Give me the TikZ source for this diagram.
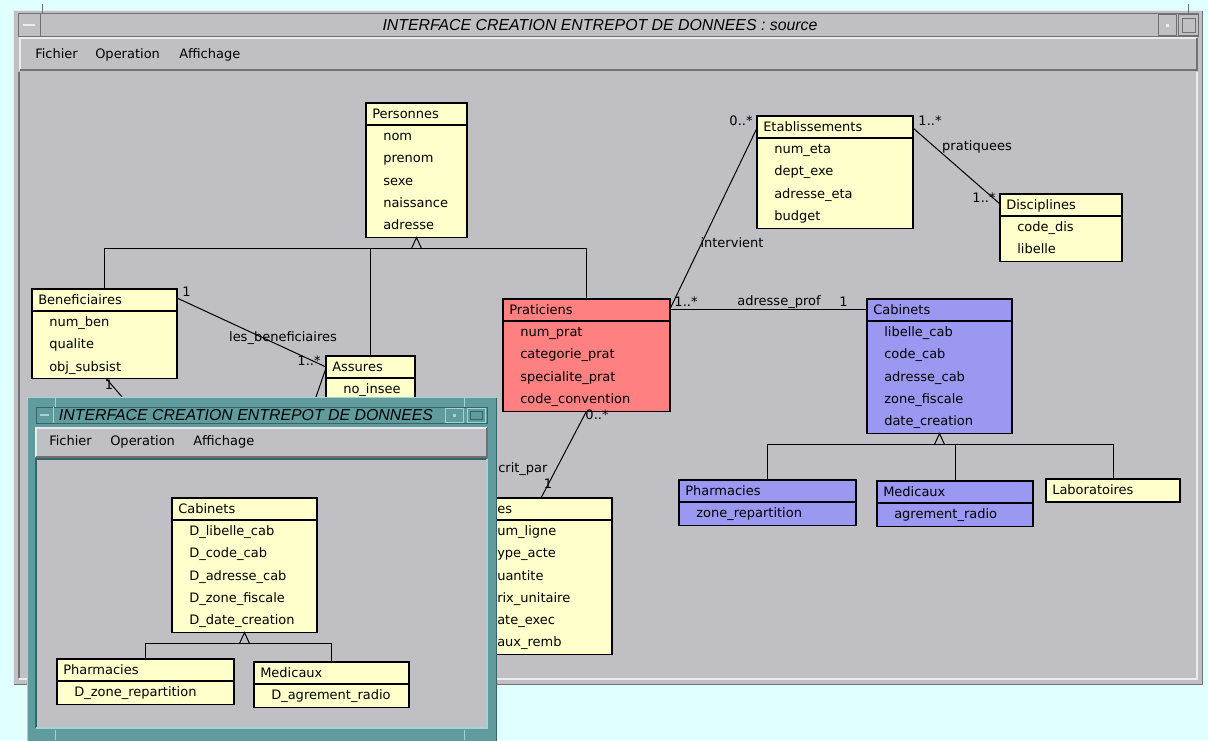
\documentclass[tikz,border=0pt]{standalone}
\usepackage{fontspec}
\setmainfont{DejaVu Sans}
\newfontfamily\wintitle{Liberation Sans}

\definecolor{deskcyan}{RGB}{224,255,255}
\definecolor{wingray}{RGB}{192,191,196}
\definecolor{winlight}{RGB}{235,235,238}
\definecolor{windark}{RGB}{112,112,118}
\definecolor{classyellow}{RGB}{255,255,204}
\definecolor{classred}{RGB}{255,128,128}
\definecolor{classblue}{RGB}{155,152,242}
\definecolor{frameteal}{RGB}{96,156,158}
\definecolor{teallight}{RGB}{165,210,210}
\definecolor{tealdark}{RGB}{52,102,104}

\newcommand{\boxfont}{\fontsize{9.75}{11}\selectfont}
\newcommand{\titlefont}{\wintitle\itshape\fontsize{11.9}{14}\selectfont}

\tikzset{
  classbox/.style={draw=black, line width=0.8pt, inner sep=0pt, outer sep=0pt},
  boxline/.style={draw=black, line width=0.8pt},
  boxtext/.style={anchor=mid west, inner sep=0pt, font=\boxfont},
  assoc/.style={draw=black, line width=0.75pt},
  mult/.style={anchor=mid, inner sep=0pt, font=\boxfont},
  menutext/.style={anchor=mid west, inner sep=0pt, font=\boxfont},
  titletext/.style={inner sep=0pt, font=\titlefont},
}

% \umlclass[fill]{name}{x}{y}{width}{rows}{title}{attributes}
\newcommand{\umlclass}[8][classyellow]{%
  \node[classbox, fill=#1, minimum width=#5*0.75pt, minimum height={(23+#6*22.3)*0.75pt}, anchor=north west] (#2) at (#3,#4) {};
  \ifnum#6>0\relax
    \draw[boxline] ([yshift=-16.5pt]#2.north west) -- ([yshift=-16.5pt]#2.north east);
  \fi
  \node[boxtext] (#2-title) at ([shift={(6,11.5)}]#2.north west) {#7};
  \foreach \attr [count=\i] in {#8}
    \node[boxtext] (#2-\i) at ([shift={(17,11.5+22.3*\i)}]#2.north west) {\attr};
}

% \generalize{parent}{children}
\newcommand{\generalize}[2]{%
  \coordinate (#1-base) at ([shift={(0,11)}]#1.south);
  \draw[assoc] ([shift={(-5,11)}]#1.south) -- (#1.south) -- ([shift={(5,11)}]#1.south);
  \foreach \child in {#2}
    \draw[assoc] (\child.north) |- (#1-base);
}

\begin{document}
\begin{tikzpicture}[x=0.75pt, y=-0.75pt]
\useasboundingbox (0,0) rectangle (1208,740);

% desktop and main window
\fill[deskcyan] (0,0) rectangle (1208,740);
\fill[wingray] (13,10) rectangle (1203,685);
\draw[winlight, line width=1pt] (13.5,684.5) -- (13.5,10.5) -- (1202.5,10.5);
\draw[windark, line width=1pt] (1202.5,10.5) -- (1202.5,684.5) -- (13.5,684.5);
\draw[windark, line width=0.6pt] (42,4) -- (42,13);
\draw[windark, line width=0.6pt] (1188,4) -- (1188,13);

% title bar
\draw[windark, line width=0.75pt] (18,13) rectangle (1198,36);
\draw[windark, line width=0.75pt] (40,13) -- (40,36);
\draw[winlight, line width=1.2pt] (23,25) -- (35,25);
\node[titletext] (maintitle) at (600,25) {INTERFACE CREATION ENTREPOT DE DONNEES : source};
\draw[windark, line width=0.6pt] (1158,14) rectangle (1176,35);
\fill[winlight] (1166,24) rectangle (1169,27);
\draw[windark, line width=0.6pt] (1178,14) rectangle (1198,35);
\draw[windark, line width=0.6pt] (1182,18) rectangle (1195,32);

% menu bar
\draw[winlight, line width=1pt] (20,70) -- (20,38) -- (1197,38);
\draw[windark, line width=1pt] (1197,38) -- (1197,70) -- (20,70);
\node[menutext] (mfich) at (35,55) {Fichier};
\node[menutext] (mop) at (95,55) {Operation};
\node[menutext] (maff) at (179,55) {Affichage};

% drawing area
\fill[wingray] (20,72) rectangle (1196,678);
\draw[windark, line width=1pt] (19,678) -- (19,72);
\draw[winlight, line width=1pt] (1197,72) -- (1197,679) -- (19,679);

% classes
\umlclass{pers}{366}{103}{101}{5}{Personnes}{nom, prenom, sexe, naissance, adresse}
\umlclass{ben}{32}{289}{145}{3}{Beneficiaires}{num\_ben, qualite, obj\_subsist}
\umlclass{ass}{326}{356}{89}{4}{Assures}{no\_insee}
\umlclass[classred]{prat}{503}{299}{167}{4}{Praticiens}{num\_prat, categorie\_prat, specialite\_prat, code\_convention}
\umlclass{etab}{757}{116}{156}{4}{Etablissements}{num\_eta, dept\_exe, adresse\_eta, budget}
\umlclass{disc}{1000}{194}{122}{2}{Disciplines}{code\_dis, libelle}
\umlclass[classblue]{cab}{867}{299}{145}{5}{Cabinets}{libelle\_cab, code\_cab, adresse\_cab, zone\_fiscale, date\_creation}
\umlclass[classblue]{pharm}{679}{480}{177}{1}{Pharmacies}{zone\_repartition}
\umlclass[classblue]{medic}{877}{481}{156}{1}{Medicaux}{agrement\_radio}
\umlclass{labo}{1046}{479}{134}{0}{Laboratoires}{}
\umlclass{lig}{470}{498}{142}{6}{}{}

% visible ends of the half hidden class
\node[boxtext] (lig-t) at (497,509.5) {es};
\foreach \frag [count=\i] in {um\_ligne, ype\_acte, uantite, rix\_unitaire, ate\_exec, aux\_remb}
  \node[boxtext] (lig-f\i) at (497,509.5+22.3*\i) {\frag};

% generalizations
\generalize{pers}{ben, ass, prat}
\generalize{cab}{pharm, medic, labo}

% associations
\draw[assoc] ([shift={(0,9)}]ben.north east) -- ([shift={(0,11)}]ass.north west);
\node[mult] (m1) at (186.5,293) {1};
\node[mult] (lbenef) at (283,338) {les\_beneficiaires};
\node[mult] (m2) at (309,362) {1..*};

\coordinate (bendown) at (135,412);
\draw[assoc] ([shift={(2,0)}]ben.south) -- (bendown);
\node[mult] (m3) at (109,386) {1};
\coordinate (assdown) at (308,420);
\draw[assoc] ([shift={(0,12)}]ass.north west) -- (assdown);

\draw[assoc] ([shift={(0,10)}]prat.north east) -- ([shift={(0,12)}]etab.north west);
\node[mult] (m4) at (686,303) {1..*};
\node[mult] (linterv) at (732,244) {intervient};
\node[mult] (m5) at (741,122) {0..*};

\draw[assoc] ([shift={(0,10)}]prat.north east) -- ([shift={(0,10)}]cab.north west);
\node[mult] (ladr) at (779,302) {adresse\_prof};
\node[mult] (m6) at (843.5,303) {1};

\draw[assoc] ([shift={(0,12)}]etab.north east) -- ([shift={(0,10)}]disc.north west);
\node[mult] (m7) at (930,122) {1..*};
\node[mult] (lprat) at (977,147) {pratiquees};
\node[mult] (m8) at (984,199) {1..*};

\draw[assoc] (prat.south) -- (lig.north);
\node[mult] (m9) at (597,416) {0..*};
\node[boxtext] (lcrit) at (498,469) {crit\_par};
\node[mult] (m10) at (548,485) {1};

% second window
\fill[frameteal] (27,397) rectangle (497,742);
\draw[teallight, line width=1pt] (27.5,742) -- (27.5,397.5) -- (496.5,397.5);
\draw[tealdark, line width=1pt] (496.5,397.5) -- (496.5,742);
\draw[teallight, line width=0.6pt] (55,397) -- (55,407);
\draw[teallight, line width=0.6pt] (464,397) -- (464,407);
\draw[teallight, line width=0.6pt] (55,730) -- (55,740);
\draw[teallight, line width=0.6pt] (464,730) -- (464,740);
\draw[tealdark, line width=0.6pt] (36,407) rectangle (487,423);
\draw[teallight, line width=0.6pt] (53,407) -- (53,423);
\draw[teallight, line width=1.2pt] (40,415) -- (49,415);
\node[titletext] (subtitle) at (246,415) {INTERFACE CREATION ENTREPOT DE DONNEES};
\draw[teallight, line width=0.6pt] (445,408) rectangle (463,422);
\fill[teallight] (452.5,413.5) rectangle (455.5,416.5);
\draw[teallight, line width=0.6pt] (467,408) rectangle (485,422);
\draw[tealdark, line width=0.6pt] (470,411) rectangle (482,419);

\fill[wingray] (36,428) rectangle (487,457);
\draw[winlight, line width=1pt] (36,457) -- (36,428) -- (487,428);
\draw[windark, line width=1pt] (487,428) -- (487,457) -- (36,457);
\node[menutext] (sfich) at (49,442) {Fichier};
\node[menutext] (sop) at (110,442) {Operation};
\node[menutext] (saff) at (193,442) {Affichage};

\fill[wingray] (36,459) rectangle (487,728);
\draw[tealdark, line width=1pt] (36,728) -- (36,459) -- (487,459);
\draw[teallight, line width=1pt] (487,459) -- (487,728) -- (36,728);

\umlclass{icab}{172}{498}{145}{5}{Cabinets}{D\_libelle\_cab, D\_code\_cab, D\_adresse\_cab, D\_zone\_fiscale, D\_date\_creation}
\umlclass{ipharm}{57}{659}{177}{1}{Pharmacies}{D\_zone\_repartition}
\umlclass{imedic}{254}{662}{155}{1}{Medicaux}{D\_agrement\_radio}
\generalize{icab}{ipharm, imedic}

\end{tikzpicture}
\end{document}
